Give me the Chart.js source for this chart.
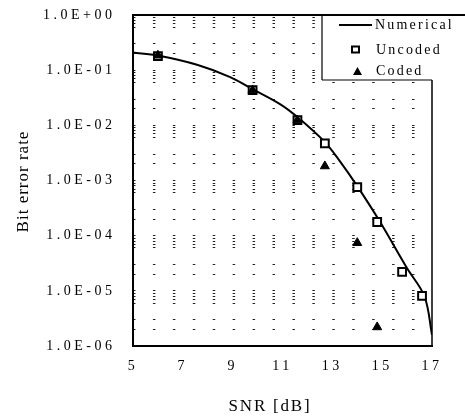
<!DOCTYPE html>
<html><head><meta charset="utf-8">
<script src="https://cdn.jsdelivr.net/npm/chart.js@4.4.0/dist/chart.umd.min.js"></script>
<style>html,body{margin:0;padding:0;background:#fff;}canvas{display:block;}</style>
</head><body>
<canvas id="c" width="465" height="419" style="width:465px;height:419px"></canvas>
<script>
// ---- data ----
const snrNumerical = [5, 6, 7.6, 8.9, 9.8, 10.9, 11.6, 12.7, 13.3, 14.0, 14.9, 16.0, 16.7, 17];
const berNumerical = [0.209, 0.184, 0.124, 0.075, 0.0454, 0.0243, 0.0141, 0.00496, 0.00224, 0.00079, 0.000182, 0.0000256, 0.0000079, 0.0000016];
const snrUncoded = [6.0, 9.8, 11.6, 12.7, 14.0, 14.8, 15.8, 16.6];
const berUncoded = [0.18, 0.0435, 0.0124, 0.0047, 0.00076, 0.000177, 0.000022, 0.0000081];
const snrCoded = [6.0, 9.8, 11.6, 12.7, 14.0, 14.8];
const berCoded = [0.185, 0.0435, 0.0124, 0.00182, 0.000074, 0.0000022];
const seriesNames = ['Numerical', 'Uncoded', 'Coded'];
const xTickValues = [5, 7, 9, 11, 13, 15, 17];
const yTickValues = [1, 1e-1, 1e-2, 1e-3, 1e-4, 1e-5, 1e-6];
const yTickLabels = ['1.0E+00', '1.0E-01', '1.0E-02', '1.0E-03', '1.0E-04', '1.0E-05', '1.0E-06'];
const yGridMantissas = [1, 2, 3, 6, 7, 8, 9];
const xTitle = 'SNR [dB]';
const yTitle = 'Bit error rate';

const serif = "'Liberation Serif', 'Times New Roman', serif";
const toXY = (xs, ys) => xs.map((x, i) => ({x, y: ys[i]}));

const decorPlugin = {
  id: 'decor',
  beforeUpdate(chart) { chart.ctx.letterSpacing = '3.5px'; },
  beforeDraw(chart) { chart.ctx.letterSpacing = '3.5px'; },
  afterDraw(chart) {
    const ctx = chart.ctx;
    const a = chart.chartArea;
    ctx.save();
    ctx.strokeStyle = '#000';
    // frame
    ctx.lineWidth = 2;
    ctx.beginPath();
    ctx.moveTo(a.left, a.top - 1); ctx.lineTo(a.left, a.bottom + 1);
    ctx.moveTo(a.left - 1, a.bottom); ctx.lineTo(a.right + 1, a.bottom);
    ctx.moveTo(a.left - 1, a.top); ctx.lineTo(465, a.top);
    ctx.stroke();
    ctx.lineWidth = 1.5;
    ctx.beginPath();
    ctx.moveTo(a.right, a.top); ctx.lineTo(a.right, a.bottom);
    ctx.stroke();

    // axis titles
    ctx.fillStyle = '#000';
    ctx.letterSpacing = '1px';
    ctx.font = '17px ' + serif;
    ctx.save();
    ctx.translate(28, (a.top + a.bottom) / 2 + 1);
    ctx.rotate(-Math.PI / 2);
    ctx.textAlign = 'center';
    ctx.textBaseline = 'alphabetic';
    ctx.fillText(yTitle, 0, 0);
    ctx.restore();
    ctx.letterSpacing = '1.8px';
    ctx.textAlign = 'center';
    ctx.textBaseline = 'alphabetic';
    ctx.fillText(xTitle, 270, 411);

    // legend box
    const lx = 322, ly = a.top, lb = 80;
    ctx.fillStyle = '#fff';
    ctx.fillRect(lx, ly + 1, 470 - lx, lb - ly - 1);
    ctx.strokeStyle = '#000';
    ctx.lineWidth = 2;
    ctx.beginPath();
    ctx.moveTo(lx - 1, ly); ctx.lineTo(465, ly);
    ctx.stroke();
    ctx.lineWidth = 1.2;
    ctx.beginPath();
    ctx.moveTo(lx, ly); ctx.lineTo(lx, lb);
    ctx.moveTo(lx, lb); ctx.lineTo(a.right, lb);
    ctx.stroke();

    // legend entries
    ctx.lineWidth = 2;
    ctx.beginPath();
    ctx.moveTo(339, 25); ctx.lineTo(372, 25);
    ctx.stroke();
    ctx.fillStyle = '#fff';
    ctx.fillRect(352, 46.5, 7, 6);
    ctx.strokeRect(352, 46.5, 7, 6);
    ctx.fillStyle = '#000';
    ctx.beginPath();
    ctx.moveTo(357.5, 67); ctx.lineTo(362, 75); ctx.lineTo(353, 75); ctx.closePath();
    ctx.fill();

    ctx.font = '14px ' + serif;
    ctx.letterSpacing = '2.2px';
    ctx.textAlign = 'left';
    ctx.textBaseline = 'middle';
    ctx.fillText(seriesNames[0], 375, 25);
    ctx.fillText(seriesNames[1], 376, 50);
    ctx.fillText(seriesNames[2], 376, 71);
    ctx.restore();
  }
};

new Chart(document.getElementById('c'), {
  type: 'line',
  data: {
    datasets: [
      {
        label: seriesNames[0], data: toXY(snrNumerical, berNumerical),
        borderColor: '#000', borderWidth: 2, pointRadius: 0,
        tension: 0.35, fill: false, order: 2
      },
      {
        label: seriesNames[1], data: toXY(snrUncoded, berUncoded), showLine: false,
        pointStyle: 'rect', pointRadius: 5.5, pointBorderWidth: 2,
        pointBackgroundColor: '#fff', pointBorderColor: '#000', order: 1
      },
      {
        label: seriesNames[2], data: toXY(snrCoded, berCoded), showLine: false,
        pointStyle: 'triangle', pointRadius: 5.2, pointBorderWidth: 1,
        pointBackgroundColor: '#000', pointBorderColor: '#000', order: 0
      }
    ]
  },
  options: {
    responsive: false, animation: false, devicePixelRatio: 1,
    layout: { padding: { top: 15, right: 33, bottom: 0, left: 0 } },
    plugins: { legend: { display: false }, tooltip: { enabled: false } },
    scales: {
      x: {
        type: 'linear', min: 5, max: 17,
        afterBuildTicks: s => { s.ticks = xTickValues.map(v => ({value: v})); },
        afterFit: s => { s.height = 73; s.paddingLeft = 0; s.paddingRight = 0; },
        grid: { display: false, drawTicks: false },
        border: { display: false },
        ticks: { color: '#000', font: { family: serif, size: 14 }, padding: 12, maxRotation: 0, autoSkip: false }
      },
      y: {
        type: 'logarithmic', min: 1e-6, max: 1,
        afterBuildTicks: s => {
          const t = [];
          for (let e = -6; e <= 0; e++) {
            for (const m of yGridMantissas) {
              const v = m * Math.pow(10, e);
              if (v <= 1.0000001) t.push({value: v});
            }
          }
          s.ticks = t;
        },
        afterFit: s => { s.width = 133; s.paddingTop = 0; s.paddingBottom = 0; },
        grid: { color: '#222', lineWidth: 1, drawTicks: false },
        border: { display: false, dash: [2.5, 17.43], dashOffset: 0 },
        ticks: {
          color: '#000', font: { family: serif, size: 14 }, padding: 17.5, autoSkip: false,
          callback: v => {
            const i = yTickValues.findIndex(d => Math.abs(Math.log10(d) - Math.log10(v)) < 1e-6);
            return i >= 0 ? yTickLabels[i] : '';
          }
        }
      }
    }
  },
  plugins: [decorPlugin]
});
</script>
</body></html>
